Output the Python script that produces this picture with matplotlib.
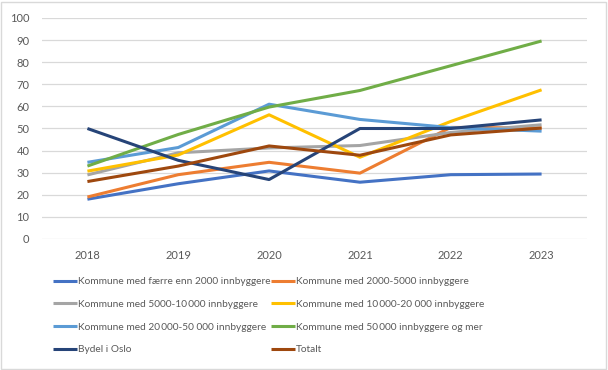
import matplotlib.pyplot as plt
from matplotlib.patches import Rectangle

plt.rcParams["font.family"] = ["Lato", "DejaVu Sans"]

years = ["2018", "2019", "2020", "2021", "2022", "2023"]

faerre_2000 = [18, 25, 30.8, 25.7, 29.1, 29.4]
k2000_5000 = [19, 29.1, 34.7, 29.8, 50.5, 50.2]
k5000_10000 = [29, 39, 41.2, 42.3, 48.2, 51.7]
k10000_20000 = [30.7, 38, 56.2, 37, 53.2, 67.5]
k20000_50000 = [34.7, 41.4, 61, 54.1, 50.4, 48.8]
k50000_mer = [33, 47.3, 59.7, 67.2, 78.4, 89.6]
bydel_oslo = [50, 35.6, 26.9, 50, 50, 53.9]
totalt = [26, 33, 42.1, 37.9, 47.1, 50.2]

labels = [
    "Kommune med færre enn 2000 innbyggere",
    "Kommune med 2000-5000 innbyggere",
    "Kommune med 5000-10\u2009000 innbyggere",
    "Kommune med 10\u2009000-20 000 innbyggere",
    "Kommune med 20\u2009000-50 000 innbyggere",
    "Kommune med 50\u2009000 innbyggere og mer",
    "Bydel i Oslo",
    "Totalt",
]
series = [faerre_2000, k2000_5000, k5000_10000, k10000_20000,
          k20000_50000, k50000_mer, bydel_oslo, totalt]
colors = ["#4472C4", "#ED7D31", "#A5A5A5", "#FFC000",
          "#5B9BD5", "#70AD47", "#264478", "#9E480E"]

W, H = 608, 370
fig = plt.figure(figsize=(W / 100, H / 100), dpi=100)
ax = fig.add_axes([42 / W, 1 - 239 / H, (587 - 42) / W, (239 - 18) / H])

x = list(range(len(years)))
handles = []
for vals, lab, col in zip(series, labels, colors):
    h, = ax.plot(x, vals, color=col, lw=2.2, label=lab, solid_capstyle="butt")
    handles.append(h)

ax.set_xlim(-0.5, len(years) - 0.5)
ax.set_ylim(0, 100)
ax.set_yticks(range(0, 101, 10))
ax.set_xticks(x)
ax.set_xticklabels(years)
ax.yaxis.grid(True, color="#D9D9D9", lw=0.9)
ax.set_axisbelow(True)
for s in ax.spines.values():
    s.set_visible(False)
ax.tick_params(length=0, labelsize=8, colors="#595959")
ax.tick_params(axis="y", pad=9)
ax.tick_params(axis="x", pad=8)

order = [0, 2, 4, 6, 1, 3, 5, 7]
fig.legend([handles[i] for i in order], [labels[i] for i in order],
           ncol=2, loc="upper left", bbox_to_anchor=(53 / W, 1 - 277 / H),
           frameon=False, fontsize=7.3, handlelength=2.4, handletextpad=0.1,
           columnspacing=0.0, labelspacing=1.35, borderaxespad=0,
           borderpad=0, labelcolor="#595959")

fig.patches.append(Rectangle((1 / W, 1 / H), (W - 3) / W, (H - 3) / H,
                             transform=fig.transFigure, fill=False,
                             edgecolor="#D9D9D9", lw=1))

fig.savefig("out.png", dpi=100)
